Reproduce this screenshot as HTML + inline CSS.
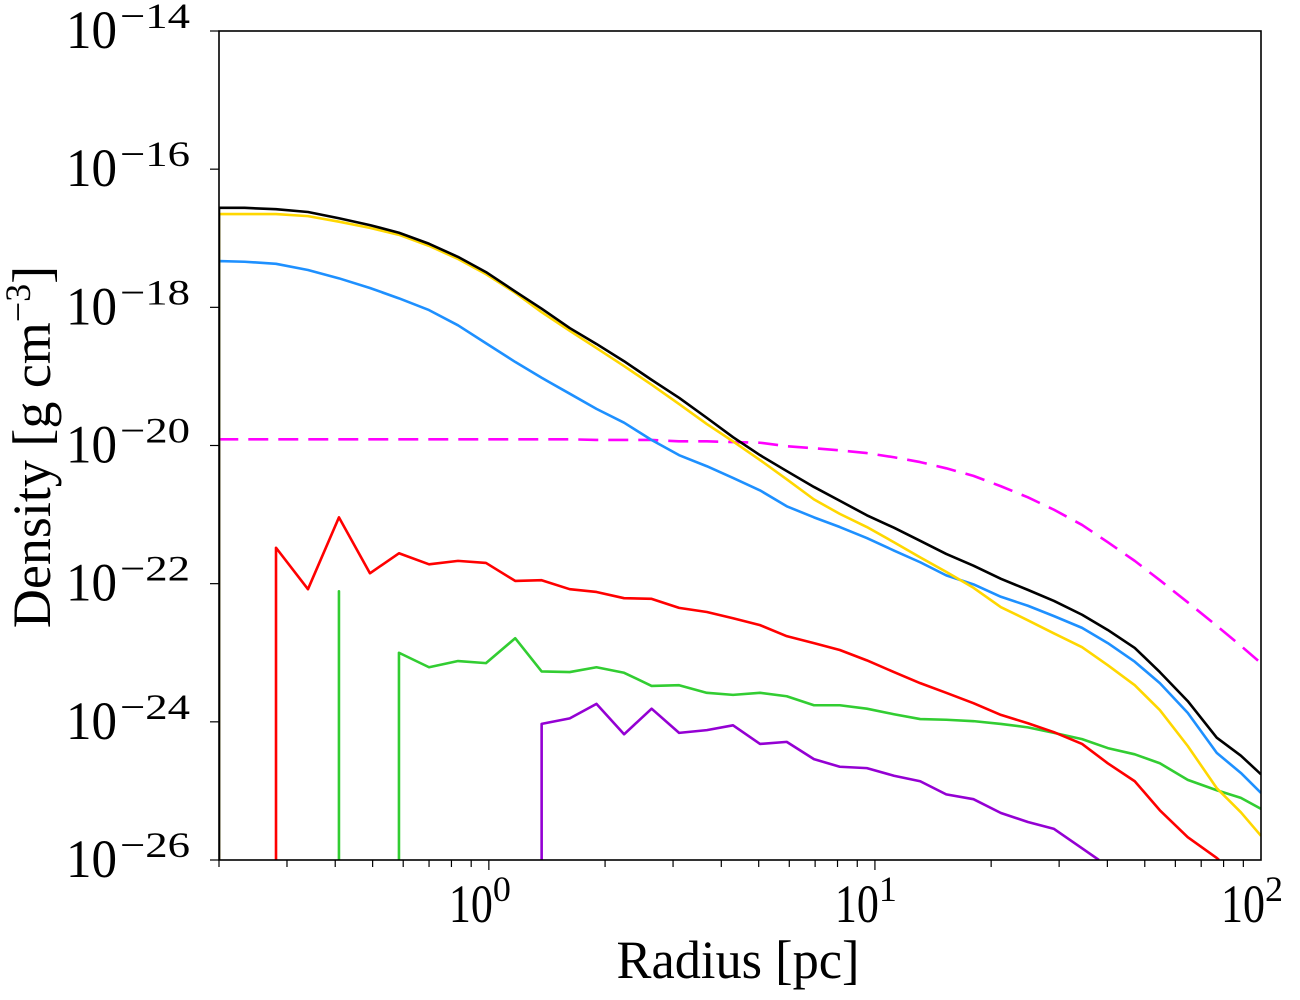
<!DOCTYPE html>
<html><head><meta charset="utf-8"><style>
html,body{margin:0;padding:0;background:#fff;overflow:hidden;width:1300px;height:1000px;}
svg{display:block;font-family:"Liberation Serif",serif;overflow:hidden;}
</style></head><body>
<svg id="chart" width="1300" height="1000" viewBox="0 0 1300 1000" xmlns="http://www.w3.org/2000/svg">
<defs><clipPath id="plotclip"><rect x="219" y="31" width="1042" height="829"/></clipPath></defs>
<rect x="0" y="0" width="1300" height="1000" fill="#fff"/>
<g id="series" clip-path="url(#plotclip)"></g>
<g id="axes"></g>
<text x="738" y="978" font-size="54" text-anchor="middle" textLength="243" lengthAdjust="spacingAndGlyphs">Radius [pc]</text>
<text transform="translate(50,447) rotate(-90)" font-size="54" text-anchor="middle">Density [g cm<tspan dy="-20" font-size="36">−3</tspan><tspan dy="20">]</tspan></text>
</svg>
<script>
const radii = [0.200,0.233,0.281,0.340,0.409,0.492,0.585,0.700,0.832,0.983,1.17,1.37,1.62,1.90,2.24,2.64,3.11,3.67,4.29,5.04,5.91,6.95,8.11,9.53,11.2,13.1,15.3,18.0,21.2,24.9,29.1,34.4,40.1,47.1,54.7,64.6,76.8,88.7,100];
const Z = null;
const logTotal = [-16.56,-16.56,-16.58,-16.62,-16.71,-16.81,-16.92,-17.08,-17.27,-17.49,-17.77,-18.02,-18.30,-18.53,-18.78,-19.05,-19.31,-19.60,-19.88,-20.14,-20.37,-20.60,-20.80,-21.01,-21.19,-21.38,-21.57,-21.74,-21.93,-22.09,-22.25,-22.45,-22.67,-22.93,-23.28,-23.70,-24.23,-24.49,-24.76];
const logYellow = [-16.65,-16.65,-16.65,-16.68,-16.76,-16.85,-16.95,-17.11,-17.30,-17.52,-17.79,-18.07,-18.34,-18.59,-18.85,-19.12,-19.40,-19.69,-19.94,-20.21,-20.49,-20.78,-20.99,-21.18,-21.40,-21.62,-21.83,-22.06,-22.34,-22.53,-22.72,-22.92,-23.18,-23.47,-23.83,-24.35,-24.96,-25.31,-25.65];
const logBlue = [-17.33,-17.34,-17.37,-17.46,-17.58,-17.72,-17.87,-18.04,-18.26,-18.52,-18.79,-19.02,-19.25,-19.47,-19.67,-19.92,-20.14,-20.30,-20.47,-20.65,-20.88,-21.04,-21.18,-21.34,-21.52,-21.69,-21.88,-22.01,-22.19,-22.32,-22.47,-22.64,-22.86,-23.13,-23.44,-23.87,-24.45,-24.74,-25.03];
const logMagenta = [-19.91,-19.91,-19.91,-19.91,-19.91,-19.91,-19.91,-19.91,-19.91,-19.91,-19.91,-19.91,-19.91,-19.92,-19.92,-19.92,-19.94,-19.94,-19.95,-19.96,-20.01,-20.04,-20.07,-20.11,-20.17,-20.24,-20.33,-20.44,-20.59,-20.75,-20.93,-21.15,-21.40,-21.67,-21.95,-22.27,-22.61,-22.90,-23.15];
const logRed = [Z,Z,-21.48,-22.08,-21.04,-21.85,-21.56,-21.72,-21.67,-21.70,-21.96,-21.95,-22.08,-22.12,-22.21,-22.22,-22.35,-22.41,-22.50,-22.60,-22.76,-22.86,-22.96,-23.11,-23.28,-23.44,-23.58,-23.73,-23.90,-24.02,-24.15,-24.32,-24.60,-24.86,-25.28,-25.67,-25.97,-26.29,-26.58];
const logGreen = [Z,Z,Z,Z,-22.11,Z,-23.00,-23.21,-23.12,-23.15,-22.79,-23.27,-23.28,-23.21,-23.29,-23.48,-23.47,-23.58,-23.61,-23.58,-23.63,-23.76,-23.76,-23.81,-23.89,-23.96,-23.97,-23.99,-24.03,-24.08,-24.16,-24.25,-24.38,-24.47,-24.60,-24.84,-24.99,-25.10,-25.26];
const logPurple = [Z,Z,Z,Z,Z,Z,Z,Z,Z,Z,Z,-24.03,-23.95,-23.74,-24.18,-23.81,-24.16,-24.12,-24.05,-24.32,-24.29,-24.54,-24.65,-24.67,-24.78,-24.86,-25.05,-25.12,-25.32,-25.45,-25.55,-25.83,-26.09,-26.36,-26.65,-27.01,-27.45,-27.88,-28.32];
const xTickExps = [0,1,2];
const yTickExps = [-14,-16,-18,-20,-22,-24,-26];

const X0=219,X1=1261,Y0=31,Y1=860;
const XMIN=Math.log10(0.2),XMAX=2,YMIN=-26,YMAX=-14;
function xs(r){return X0+(Math.log10(r)-XMIN)/(XMAX-XMIN)*(X1-X0);}
function ys(l){return Y1-(l-YMIN)/(YMAX-YMIN)*(Y1-Y0);}
const NS="http://www.w3.org/2000/svg";
const gS=document.getElementById('series'), gA=document.getElementById('axes');
function line(vals,color,name,dash){
  // build points; null = zero density -> drop vertically to bottom axis
  const pts=[];
  vals.forEach((v,i)=>{
    const x=xs(radii[i]);
    if(v===null){
      if(i>0&&vals[i-1]!==null)pts.push([xs(radii[i-1]),Y1]);
    } else {
      if(i===0||vals[i-1]===null){ if(i>0)pts.push(null); pts.push([x,Y1]); }
      pts.push([x,ys(v)]);
    }
  });
  let d='',pen=false;
  for(let k=0;k<pts.length;k++){
    const p=pts[k];
    if(p===null){pen=false;continue;}
    if(!pen){d+='M'+p[0].toFixed(2)+','+Math.min(p[1],Y1).toFixed(2);pen=true;continue;}
    const q=pts[k-1];
    if(q[1]>Y1&&p[1]>Y1)continue;
    let px=p[0],py=p[1];
    if(py>Y1){const t=(Y1-q[1])/(py-q[1]);px=q[0]+t*(px-q[0]);py=Y1;d+='L'+px.toFixed(2)+','+py.toFixed(2);break;}
    d+='L'+px.toFixed(2)+','+py.toFixed(2);
  }
  const path=document.createElementNS(NS,'path');
  path.setAttribute('d',d);path.setAttribute('fill','none');path.setAttribute('stroke',color);
  path.setAttribute('stroke-width','2.6');path.setAttribute('stroke-linejoin','round');
  if(dash)path.setAttribute('stroke-dasharray',dash);
  
  
  gS.appendChild(path);
}
line(logMagenta,'#ff00ff','line-magenta-dashed','20,10');
line(logPurple,'#9400d3','line-purple');
line(logGreen,'#32cd32','line-green');
line(logRed,'#ff0000','line-red');
line(logBlue,'#1e90ff','line-blue');
line(logYellow,'#ffd700','line-yellow');
line(logTotal,'#000000','line-total-black');

function mk(tag,attrs){const e=document.createElementNS(NS,tag);for(const k in attrs)e.setAttribute(k,attrs[k]);gA.appendChild(e);return e;}
const frame=mk('rect',{x:X0,y:Y0,width:X1-X0,height:Y1-Y0,fill:'none',stroke:'#000','stroke-width':1.6});


for(let e=-1;e<=1;e++){for(let m=1;m<=9;m++){const v=m*Math.pow(10,e);if(v<0.2||v>100)continue;const x=xs(v);
  const t=mk('line',{x1:x,x2:x,y1:Y1,y2:Y1+(m===1?10:7),stroke:'#000','stroke-width':1.2});
  
  }}
xTickExps.forEach(e=>{const x=xs(Math.pow(10,e));
  const t=mk('text',{x:x-40,y:922,'font-size':54,textLength:44,lengthAdjust:'spacingAndGlyphs'});t.textContent='10';
  
  
  const s=mk('text',{x:x+4,y:901,'font-size':36});s.textContent=String(e);
  
  });
yTickExps.forEach(e=>{const y=ys(e);
  const t=mk('line',{x1:X0-9,x2:X0,y1:y,y2:y,stroke:'#000','stroke-width':1.2});
  
  
  const l=mk('text',{x:66,y:y+17,'font-size':54,textLength:51,lengthAdjust:'spacingAndGlyphs'});l.textContent='10';
  
  
  const s=mk('text',{x:120,y:y-3,'font-size':36,textLength:70,lengthAdjust:'spacingAndGlyphs'});s.textContent='−'+String(-e);
  
  });
</script>
</body></html>
